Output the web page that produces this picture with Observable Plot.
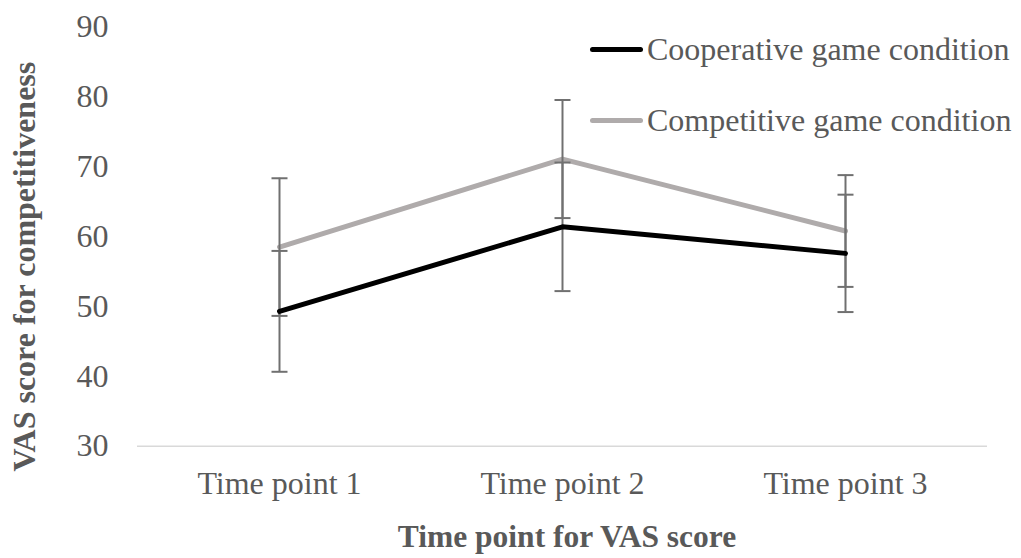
<!DOCTYPE html>
<html>
<head>
<meta charset="utf-8">
<script src="https://cdn.jsdelivr.net/npm/d3@7"></script>
<script src="https://cdn.jsdelivr.net/npm/@observablehq/plot@0.6"></script>
<style>
  html, body { margin: 0; padding: 0; background: #fff; }
  #chart { position: relative; width: 1021px; height: 558px; }
  .legend { position: absolute; left: 590px; top: 0; font-family: "Liberation Serif", "Times New Roman", serif; font-size: 32px; color: #595959; }
  .legend .item { position: absolute; left: 0; display: flex; align-items: center; white-space: nowrap; height: 40px; }
  .legend .swatch { width: 53px; height: 5px; border-radius: 3px; margin-right: 4px; }
</style>
</head>
<body>
<div id="chart"></div>
<script>
// Mean VAS competitiveness scores (± error) at each time point
const timePoints = ["Time point 1", "Time point 2", "Time point 3"];
const cooperativeMean = [49.3, 61.4, 57.6];
const cooperativeError = [8.65, 9.2, 8.4];
const competitiveMean = [58.5, 71.1, 60.8];
const competitiveError = [9.85, 8.45, 8.0];
const yTicks = [30, 40, 50, 60, 70, 80, 90];

const seriesNames = ["Cooperative game condition", "Competitive game condition"];
const seriesColors = ["#000000", "#afabab"];

const cooperative = timePoints.map((t, i) => ({time: t, mean: cooperativeMean[i], err: cooperativeError[i]}));
const competitive = timePoints.map((t, i) => ({time: t, mean: competitiveMean[i], err: competitiveError[i]}));
const allRows = cooperative.concat(competitive);

// horizontal cap drawn at the ends of each error bar
const capSymbol = {
  draw(context, size) {
    const w = Math.sqrt(size / Math.PI);
    context.moveTo(-w, 0);
    context.lineTo(w, 0);
  }
};

const errColor = "#707070";

const chart = Plot.plot({
  width: 1021,
  height: 558,
  marginLeft: 137,
  marginRight: 34,
  marginTop: 26.5,
  marginBottom: 112.3,
  style: {
    fontFamily: "'Liberation Serif', 'Times New Roman', serif",
    fontSize: "32px",
    color: "#595959",
    background: "#ffffff",
    overflow: "visible"
  },
  x: {type: "point", domain: timePoints, padding: 0.5, tickSize: 0, tickPadding: 25, label: null},
  y: {domain: [30, 90], ticks: yTicks, tickSize: 0, tickPadding: 29, label: null},
  marks: [
    Plot.ruleY([30], {stroke: "#d9d9d9", strokeWidth: 1.5}),
    Plot.line(competitive, {x: "time", y: "mean", stroke: seriesColors[1], strokeWidth: 5, strokeLinecap: "round", strokeLinejoin: "round"}),
    Plot.ruleX(allRows, {x: "time", y1: d => d.mean - d.err, y2: d => d.mean + d.err, stroke: errColor, strokeWidth: 2}),
    Plot.dot(allRows, {x: "time", y: d => d.mean + d.err, symbol: capSymbol, r: 8, stroke: errColor, strokeWidth: 2, fill: "none"}),
    Plot.dot(allRows, {x: "time", y: d => d.mean - d.err, symbol: capSymbol, r: 8, stroke: errColor, strokeWidth: 2, fill: "none"}),
    Plot.line(cooperative, {x: "time", y: "mean", stroke: seriesColors[0], strokeWidth: 5, strokeLinecap: "round", strokeLinejoin: "round"}),
    Plot.text(["Time point for VAS score"], {text: d => d, frameAnchor: "bottom", textAnchor: "middle", lineAnchor: "middle", dx: 4.5, dy: 91, fontWeight: "bold", fontSize: 31.5}),
    Plot.text(["VAS score for competitiveness"], {text: d => d, frameAnchor: "left", textAnchor: "middle", lineAnchor: "middle", rotate: -90, dx: -113, dy: 30, fontWeight: "bold", fontSize: 32})
  ]
});

const container = document.getElementById("chart");
container.appendChild(chart);

// legend in the upper-right corner of the plot area
const legend = document.createElement("div");
legend.className = "legend";
const legendCenters = [49.3, 120];
seriesNames.forEach((name, i) => {
  const item = document.createElement("div");
  item.className = "item";
  item.style.top = (legendCenters[i] - 20) + "px";
  const sw = document.createElement("span");
  sw.className = "swatch";
  sw.style.background = seriesColors[i];
  const label = document.createElement("span");
  label.textContent = name;
  item.appendChild(sw);
  item.appendChild(label);
  legend.appendChild(item);
});
container.appendChild(legend);
</script>
</body>
</html>
